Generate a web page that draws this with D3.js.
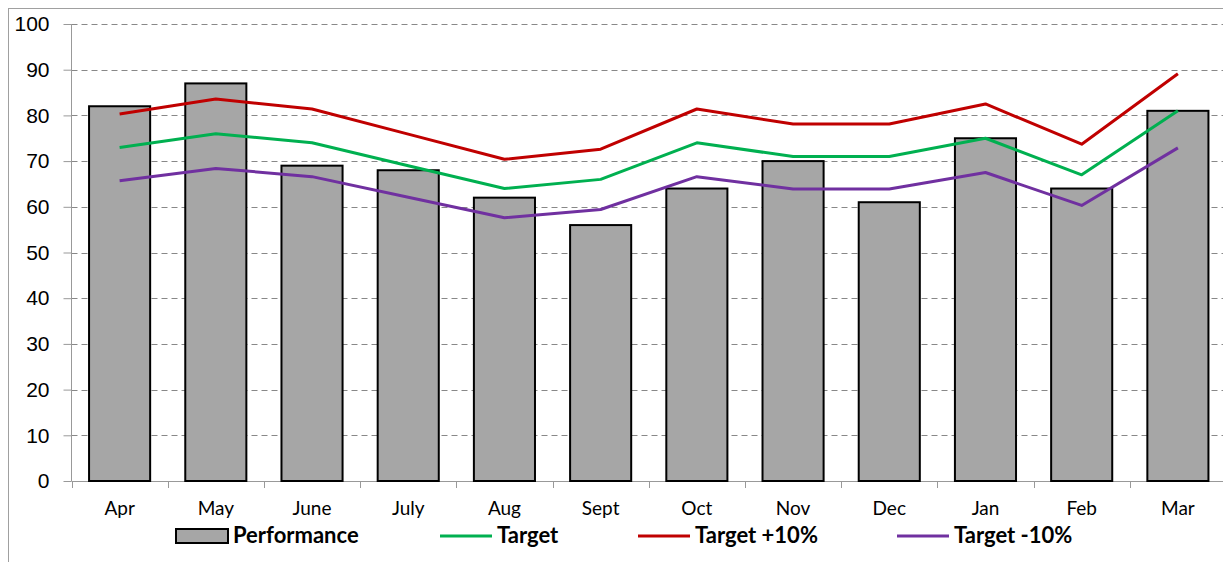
<!DOCTYPE html>
<html>
<head>
<meta charset="utf-8">
<style>
    body { margin: 0; background: #fff; }
    svg { display: block; font-family: Lato, 'Open Sans', sans-serif; }
    .grid line { stroke: #888; stroke-width: 1px; stroke-dasharray: 6,4; }
    .axis path, .axis line { stroke: #999; }
    .axis text { fill: #000; }
    .bar { fill: #a6a6a6; stroke: #000; stroke-width: 2px; }
    .series { fill: none; stroke-width: 3px; stroke-linejoin: round; }
    .legend text { font-weight: bold; font-size: 22px; }
</style>
</head>
<body>
<svg id="chart" width="1223" height="562"></svg>
<script src="https://d3js.org/d3.v7.min.js"></script>
<script>
    var months = ['Apr', 'May', 'June', 'July', 'Aug', 'Sept', 'Oct', 'Nov', 'Dec', 'Jan', 'Feb', 'Mar'];
    var performance = [82, 87, 69, 68, 62, 56, 64, 70, 61, 75, 64, 81];
    var target = [73, 76, 74, 69, 64, 66, 74, 71, 71, 75, 67, 81];
    var targetPlus = [80.3, 83.6, 81.4, 75.9, 70.4, 72.6, 81.4, 78.1, 78.1, 82.5, 73.7, 89.1];
    var targetMinus = [65.7, 68.4, 66.6, 62.1, 57.6, 59.4, 66.6, 63.9, 63.9, 67.5, 60.3, 72.9];
    var yTicks = [0, 10, 20, 30, 40, 50, 60, 70, 80, 90, 100];

    var lines = [
        {name: 'Target', values: target, color: '#00b050'},
        {name: 'Target +10%', values: targetPlus, color: '#c00000'},
        {name: 'Target -10%', values: targetMinus, color: '#7030a0'}
    ];

    var svg = d3.select('#chart');
    var g_left = 71.5, g_right = 1226, g_top = 24, g_bottom = 481;

    // outer chart border
    svg.append('rect')
        .attr('x', 8.5).attr('y', 8.5)
        .attr('width', 1240).attr('height', 600)
        .attr('fill', 'none').attr('stroke', '#a0a0a0').attr('stroke-width', 1);

    var x = d3.scaleBand().domain(months).range([g_left, g_right]).paddingInner(0.365).paddingOuter(0.1825);
    var xb = d3.scaleBand().domain(months).range([g_left, g_right]);
    var y = d3.scaleLinear().domain([0, 100]).range([g_bottom, g_top]);

    // grid
    svg.append('g').attr('class', 'grid')
        .selectAll('line').data(yTicks.filter(function(d){ return d > 0; }))
        .enter().append('line')
        .attr('x1', g_left).attr('x2', g_right)
        .attr('y1', function(d){ return Math.round(y(d)) + 0.5; })
        .attr('y2', function(d){ return Math.round(y(d)) + 0.5; });

    // y axis
    var yAxis = d3.axisLeft(y).tickValues(yTicks).tickSize(8).tickPadding(14);
    var gy = svg.append('g').attr('class', 'axis')
        .attr('transform', 'translate(' + g_left + ',0)')
        .call(yAxis);
    gy.selectAll('text').style('font-size', '21px');
    gy.select('.domain').attr('d', 'M0,' + g_top + 'V' + g_bottom);

    // x axis with ticks between categories
    var gx = svg.append('g').attr('class', 'axis')
        .attr('transform', 'translate(0,' + g_bottom + ')');
    gx.append('line').attr('x1', g_left).attr('x2', g_right).attr('y1', 0.5).attr('y2', 0.5);
    gx.selectAll('.tk').data(months).enter().append('line')
        .attr('class', 'tk')
        .attr('x1', function(d){ return Math.round(xb(d)) + 0.5; })
        .attr('x2', function(d){ return Math.round(xb(d)) + 0.5; })
        .attr('y1', 0).attr('y2', 7);
    gx.selectAll('text').data(months).enter().append('text')
        .attr('x', function(d){ return xb(d) + xb.bandwidth() / 2; })
        .attr('y', 34)
        .attr('text-anchor', 'middle')
        .style('font-size', '19px')
        .text(function(d){ return d; });

    // bars
    svg.append('g').selectAll('rect').data(performance).enter().append('rect')
        .attr('class', 'bar')
        .attr('x', function(d, i){ return x(months[i]); })
        .attr('width', x.bandwidth())
        .attr('y', function(d){ return y(d); })
        .attr('height', function(d){ return g_bottom - y(d); });

    // lines
    var line = d3.line()
        .x(function(d, i){ return xb(months[i]) + xb.bandwidth() / 2; })
        .y(function(d){ return y(d); });
    lines.forEach(function(s) {
        svg.append('path').datum(s.values)
            .attr('class', 'series')
            .attr('stroke', s.color)
            .attr('d', line);
    });

    // legend
    var legend = svg.append('g').attr('class', 'legend');
    legend.append('rect')
        .attr('x', 176).attr('y', 529).attr('width', 52).attr('height', 14)
        .attr('class', 'bar');
    legend.append('text').attr('x', 233).attr('y', 543).text('Performance');
    var legendX = [440, 638, 897];
    lines.forEach(function(s, i) {
        legend.append('line')
            .attr('x1', legendX[i]).attr('x2', legendX[i] + 52)
            .attr('y1', 536).attr('y2', 536)
            .attr('stroke', s.color).attr('stroke-width', 3);
        legend.append('text').attr('x', legendX[i] + 57).attr('y', 543).text(s.name);
    });
</script>
</body>
</html>
